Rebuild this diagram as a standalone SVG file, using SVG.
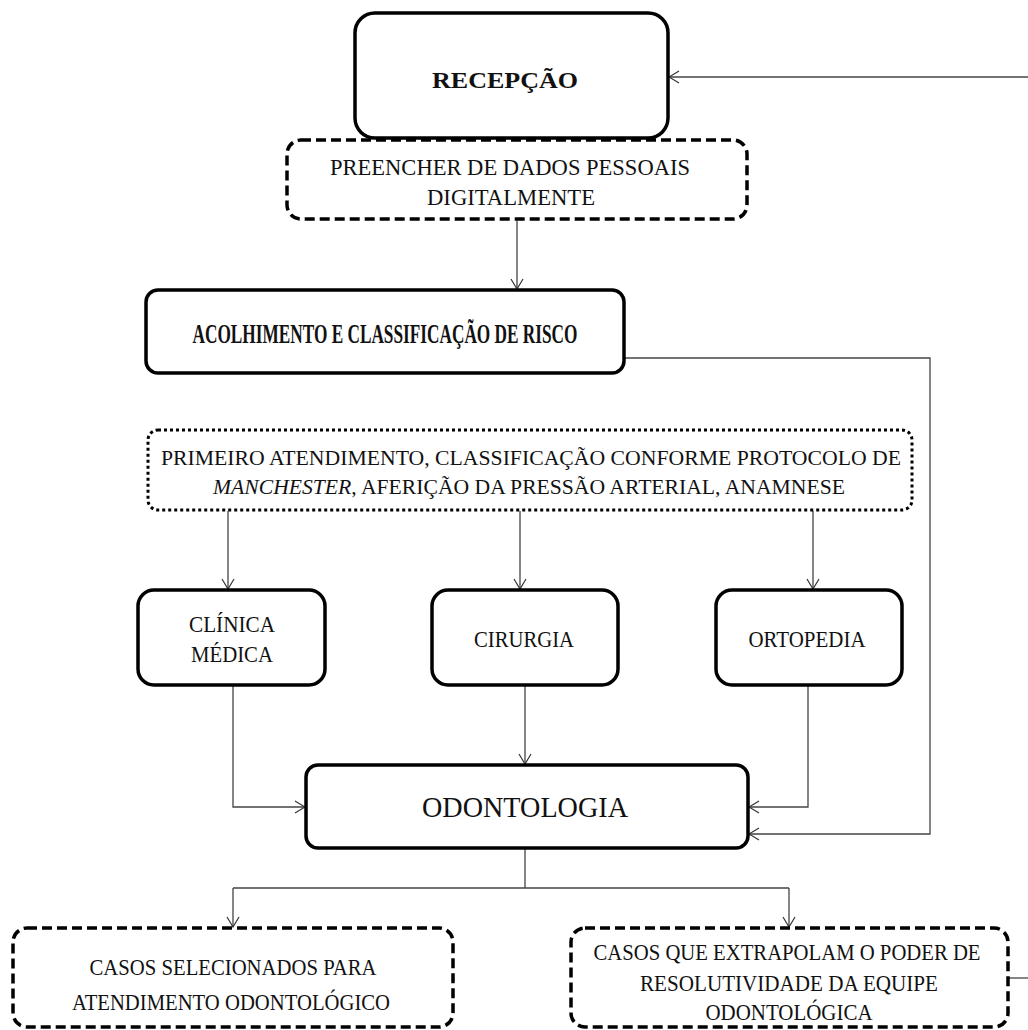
<svg xmlns="http://www.w3.org/2000/svg" width="1028" height="1030" viewBox="0 0 1028 1030">
<defs>
<marker id="arr" markerWidth="12" markerHeight="14" refX="11" refY="7" orient="auto" markerUnits="userSpaceOnUse">
<path d="M1,1 L11,7 L1,13" fill="none" stroke="#333" stroke-width="1.2"/>
</marker>
<style>
.box{fill:#fff;stroke:#000;stroke-width:3.5}
.dash{fill:#fff;stroke:#000;stroke-width:3.5;stroke-dasharray:10 5}
.dot{fill:#fff;stroke:#000;stroke-width:3;stroke-dasharray:3 3}
.t{font-family:"Liberation Serif","Times New Roman",serif;fill:#111;text-anchor:middle}
.b{font-weight:bold}
.c{fill:none;stroke:#444;stroke-width:1.3}
</style>
</defs>
<rect width="1028" height="1030" fill="#fff"/>
<g id="connectors">
<path class="c" d="M1028,77 L669,77" marker-end="url(#arr)"/>
<path class="c" d="M517,221 L517,289" marker-end="url(#arr)"/>
<path class="c" d="M625,358 L930,358 L930,834 L749,834" marker-end="url(#arr)"/>
<path class="c" d="M228,511 L228,589" marker-end="url(#arr)"/>
<path class="c" d="M520,511 L520,589" marker-end="url(#arr)"/>
<path class="c" d="M813,511 L813,589" marker-end="url(#arr)"/>
<path class="c" d="M233,686 L233,807 L305,807" marker-end="url(#arr)"/>
<path class="c" d="M525,686 L525,764" marker-end="url(#arr)"/>
<path class="c" d="M808,686 L808,807 L749,807" marker-end="url(#arr)"/>
<path class="c" d="M525,849 L525,888"/>
<path class="c" d="M233,888 L789,888"/>
<path class="c" d="M233,888 L233,927" marker-end="url(#arr)"/>
<path class="c" d="M789,888 L789,927" marker-end="url(#arr)"/>
<path class="c" d="M1009,978 L1028,978"/>
</g>
<g id="recepcao">
<rect class="box" x="355" y="13" width="313" height="125" rx="20"/>
<text class="t b" x="505" y="88" font-size="24" textLength="146" lengthAdjust="spacingAndGlyphs">RECEPÇÃO</text>
</g>
<g id="preencher">
<rect class="dash" x="287" y="140" width="460" height="79" rx="14"/>
<text class="t" x="510" y="175" font-size="23" textLength="360" lengthAdjust="spacingAndGlyphs">PREENCHER DE DADOS PESSOAIS</text>
<text class="t" x="511" y="205" font-size="23" textLength="168" lengthAdjust="spacingAndGlyphs">DIGITALMENTE</text>
</g>
<g id="acolhimento">
<rect class="box" x="146" y="290" width="478" height="83" rx="12"/>
<text class="t b" x="385" y="343" font-size="28" textLength="385" lengthAdjust="spacingAndGlyphs">ACOLHIMENTO E CLASSIFICAÇÃO DE RISCO</text>
</g>
<g id="primeiro">
<rect class="dot" x="148" y="430" width="764" height="80" rx="10"/>
<text class="t" x="531" y="465" font-size="22" textLength="740" lengthAdjust="spacingAndGlyphs">PRIMEIRO ATENDIMENTO, CLASSIFICAÇÃO CONFORME PROTOCOLO DE</text>
<text class="t" x="529" y="494" font-size="22" textLength="632" lengthAdjust="spacingAndGlyphs"><tspan font-style="italic">MANCHESTER</tspan>, AFERIÇÃO DA PRESSÃO ARTERIAL, ANAMNESE</text>
</g>
<g id="clinica">
<rect class="box" x="138" y="590" width="187" height="95" rx="16"/>
<text class="t" x="232" y="632" font-size="24" textLength="86" lengthAdjust="spacingAndGlyphs">CLÍNICA</text>
<text class="t" x="232" y="662" font-size="24" textLength="82" lengthAdjust="spacingAndGlyphs">MÉDICA</text>
</g>
<g id="cirurgia">
<rect class="box" x="432" y="590" width="186" height="95" rx="16"/>
<text class="t" x="524" y="647" font-size="24" textLength="100" lengthAdjust="spacingAndGlyphs">CIRURGIA</text>
</g>
<g id="ortopedia">
<rect class="box" x="716" y="590" width="186" height="95" rx="16"/>
<text class="t" x="807" y="647" font-size="24" textLength="117" lengthAdjust="spacingAndGlyphs">ORTOPEDIA</text>
</g>
<g id="odontologia">
<rect class="box" x="306" y="765" width="442" height="83" rx="12"/>
<text class="t" x="525" y="817" font-size="30" textLength="206" lengthAdjust="spacingAndGlyphs">ODONTOLOGIA</text>
</g>
<g id="selecionados">
<rect class="dash" x="13" y="928" width="440" height="99" rx="14"/>
<text class="t" x="233" y="975" font-size="24" textLength="287" lengthAdjust="spacingAndGlyphs">CASOS SELECIONADOS PARA</text>
<text class="t" x="231" y="1010" font-size="24" textLength="318" lengthAdjust="spacingAndGlyphs">ATENDIMENTO ODONTOLÓGICO</text>
</g>
<g id="extrapolam">
<rect class="dash" x="571" y="928" width="437" height="99" rx="14"/>
<text class="t" x="787" y="960" font-size="23" textLength="387" lengthAdjust="spacingAndGlyphs">CASOS QUE EXTRAPOLAM O PODER DE</text>
<text class="t" x="789" y="991" font-size="23" textLength="298" lengthAdjust="spacingAndGlyphs">RESOLUTIVIDADE DA EQUIPE</text>
<text class="t" x="789" y="1020" font-size="23" textLength="167" lengthAdjust="spacingAndGlyphs">ODONTOLÓGICA</text>
</g>
</svg>
